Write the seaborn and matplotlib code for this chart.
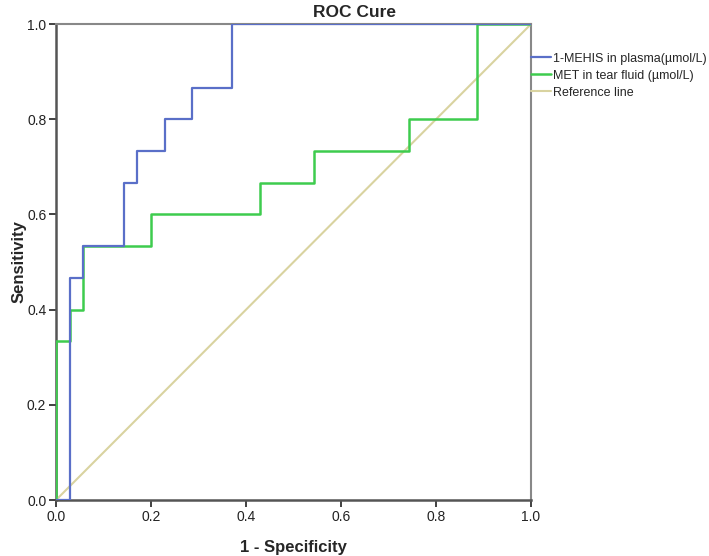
import seaborn as sns
import matplotlib.pyplot as plt
import pandas as pd

# ROC step points (35 negatives, 15 positives)
plasma_fpr = [0, 1, 1, 2, 2, 5, 5, 6, 6, 8, 8, 10, 10, 13, 13, 35]
plasma_tpr = [0, 0, 7, 7, 8, 8, 10, 10, 11, 11, 12, 12, 13, 13, 15, 15]
tear_fpr = [0, 0, 1, 1, 2, 2, 7, 7, 15, 15, 19, 19, 26, 26, 31, 31, 35]
tear_tpr = [0, 5, 5, 6, 6, 8, 8, 9, 9, 10, 10, 11, 11, 12, 12, 15, 15]
ref_line = [0, 1]

labels = ['1-MEHIS in plasma(µmol/L)', 'MET in tear fluid (µmol/L)', 'Reference line']
colors = ['#5a6fc8', '#3ecc4e', '#d9d3a0']

plasma = pd.DataFrame({'x': [v / 35 for v in plasma_fpr], 'y': [v / 15 for v in plasma_tpr]})
tear = pd.DataFrame({'x': [v / 35 for v in tear_fpr], 'y': [v / 15 for v in tear_tpr]})
ref = pd.DataFrame({'x': ref_line, 'y': ref_line})

sns.set_style('white')
plt.rcParams['font.family'] = ['Liberation Sans', 'DejaVu Sans']

fig = plt.figure(figsize=(7.09, 5.56), dpi=100)
ax = fig.add_axes([0.079, 0.1007, 0.670, 0.856])

sns.lineplot(data=ref, x='x', y='y', ax=ax, color=colors[2], linewidth=1.5,
             label=labels[2], sort=False, estimator=None, zorder=2)
sns.lineplot(data=tear, x='x', y='y', ax=ax, color=colors[1], linewidth=1.8,
             label=labels[1], sort=False, estimator=None, zorder=3)
sns.lineplot(data=plasma, x='x', y='y', ax=ax, color=colors[0], linewidth=1.6,
             label=labels[0], sort=False, estimator=None, zorder=4)

ax.set_xlim(0, 1)
ax.set_ylim(0, 1)
ax.set_xticks([0, 0.2, 0.4, 0.6, 0.8, 1.0])
ax.set_yticks([0, 0.2, 0.4, 0.6, 0.8, 1.0])
ax.set_xticklabels(['0.0', '0.2', '0.4', '0.6', '0.8', '1.0'])
ax.set_yticklabels(['0.0', '0.2', '0.4', '0.6', '0.8', '1.0'])
ax.tick_params(axis='both', direction='out', length=5, width=1.3, color='#333333',
               labelsize=10, labelcolor='#222222', pad=2, bottom=True, left=True)

for side, sp in ax.spines.items():
    sp.set_color('#555555' if side in ('left', 'bottom') else '#888888')
    sp.set_linewidth(1.8 if side in ('left', 'bottom') else 1.5)
    sp.set_zorder(1)

ax.set_xlabel('1 - Specificity', fontsize=12, fontweight='bold', labelpad=12)
ax.set_ylabel('Sensitivity', fontsize=12, fontweight='bold', labelpad=0)
fig.text(0.5, 0.978, 'ROC Cure', ha='center', va='center', fontsize=12.5, fontweight='bold')

handles, lbls = ax.get_legend_handles_labels()
order = [lbls.index(l) for l in labels]
ax.legend([handles[i] for i in order], [lbls[i] for i in order],
          loc='upper left', bbox_to_anchor=(1.0, 0.94), frameon=False,
          fontsize=9, handlelength=1.6, handletextpad=0.15, labelspacing=0.4,
          borderaxespad=0, borderpad=0)

fig.savefig('out.png', dpi=100)
